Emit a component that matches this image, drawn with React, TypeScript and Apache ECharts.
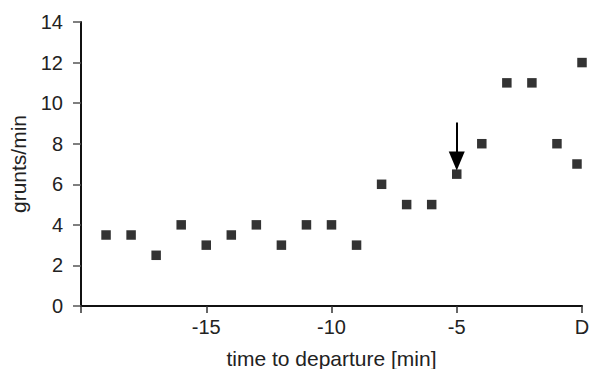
import React, { useEffect, useRef } from "react";
import * as echarts from "echarts";

const timeValues = [-19, -18, -17, -16, -15, -14, -13, -12, -11, -10, -9, -8, -7, -6, -5, -4, -3, -2, -1, -0.2, 0];
const gruntValues = [3.5, 3.5, 2.5, 4, 3, 3.5, 4, 3, 4, 4, 3, 6, 5, 5, 6.5, 8, 11, 11, 8, 7, 12];
const arrowX = -5;
const arrowFrom = 9.05;
const arrowTo = 7.15;
const xTickLabels: Record<string, string> = { "-20": "", "-15": "-15", "-10": "-10", "-5": "-5", "0": "D" };

export default function App() {
  const ref = useRef<HTMLDivElement>(null);
  useEffect(() => {
    if (!ref.current) return;
    const chart = echarts.init(ref.current, null, { renderer: "svg" });
    const font = "Liberation Sans, Arial, sans-serif";
    chart.setOption({
      animation: false,
      grid: { left: 81, right: 7, top: 22, bottom: 63, outerBoundsMode: "none", containLabel: false },
      xAxis: {
        type: "value",
        min: -20,
        max: 0,
        interval: 5,
        name: "time to departure [min]",
        nameLocation: "middle",
        nameGap: 42,
        nameTextStyle: { fontSize: 21, color: "#222", fontFamily: font },
        splitLine: { show: false },
        axisLine: { onZero: false, lineStyle: { color: "#111", width: 2 } },
        axisTick: { length: 7, lineStyle: { color: "#333", width: 1.5 } },
        axisLabel: {
          margin: 11,
          fontSize: 20,
          color: "#222",
          fontFamily: font,
          formatter: (v: number) => xTickLabels[String(v)] ?? String(v),
        },
      },
      yAxis: {
        type: "value",
        min: 0,
        max: 14,
        interval: 2,
        name: "grunts/min",
        nameLocation: "middle",
        nameGap: 52,
        nameTextStyle: { fontSize: 21, color: "#222", fontFamily: font },
        splitLine: { show: false },
        axisLine: { show: true, onZero: false, lineStyle: { color: "#111", width: 2 } },
        axisTick: { show: true, length: 8, lineStyle: { color: "#555", width: 1.5 } },
        axisLabel: { margin: 18, fontSize: 20, color: "#222", fontFamily: font },
      },
      series: [
        {
          type: "scatter",
          symbol: "rect",
          symbolSize: 9.5,
          itemStyle: { color: "#000" },
          data: timeValues.map((t, i) => [t, gruntValues[i]]),
          markLine: {
            silent: true,
            symbol: ["none", "triangle"],
            symbolSize: [16, 19],
            label: { show: false },
            lineStyle: { color: "#000", width: 2, type: "solid" },
            data: [[{ coord: [arrowX, arrowFrom] }, { coord: [arrowX, arrowTo] }]],
          },
        },
      ],
    });
    return () => chart.dispose();
  }, []);
  return <div ref={ref} style={{ width: 589, height: 369, position: "absolute", left: 0, top: 0 }} />;
}
